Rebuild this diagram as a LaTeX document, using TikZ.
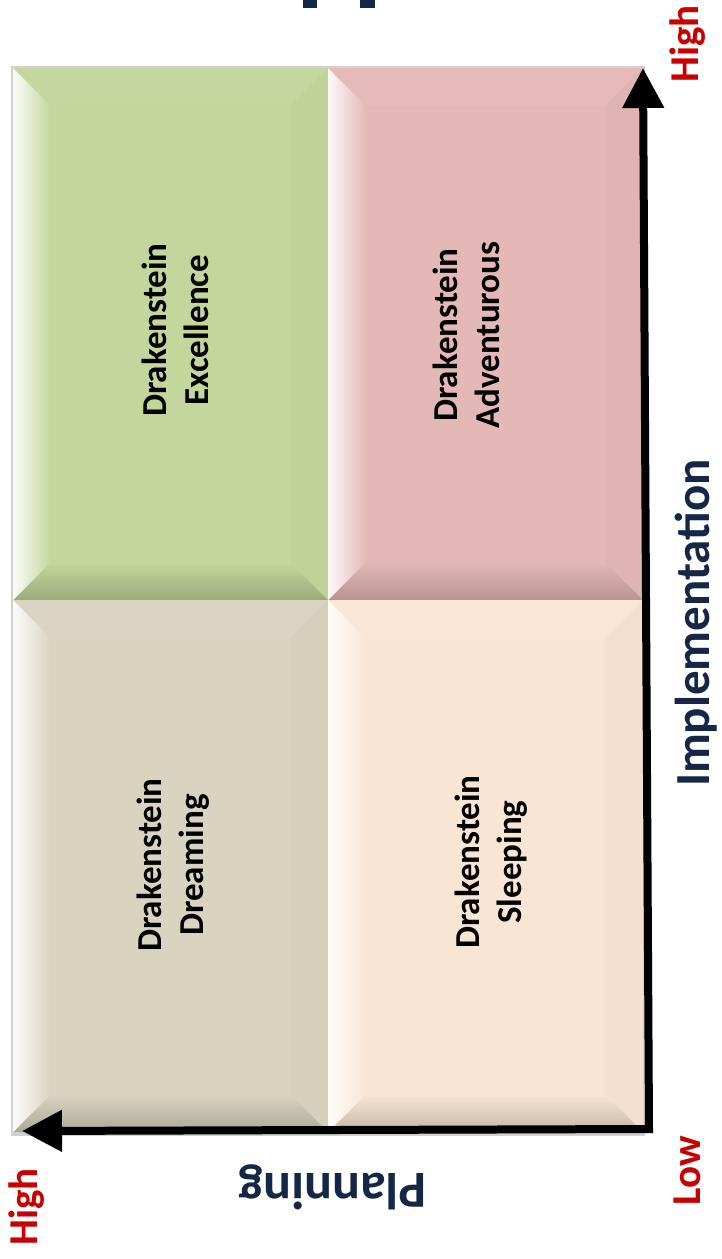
\documentclass[tikz,border=0pt]{standalone}
\usepackage{fontspec}
\setmainfont{Carlito}
\usetikzlibrary{arrows.meta}

\definecolor{cellgreen}{RGB}{195,214,155}
\definecolor{cellpink}{RGB}{228,184,183}
\definecolor{cellgray}{RGB}{217,212,192}
\definecolor{cellpeach}{RGB}{249,229,212}
\definecolor{axisnavy}{RGB}{20,40,70}
\definecolor{axisred}{RGB}{200,0,0}

% one bevelled cell of the matrix: #1 = shift, #2 = colour
\newcommand{\bevelcell}[2]{%
  \begin{scope}[shift={#1}]
    \fill[#2] (0,0) rectangle (315,532);
    \fill[#2!97!white] (0,0) -- (315,0) -- (277,38) -- (38,38) -- cycle;
    \fill[#2!98!black] (315,0) -- (315,532) -- (277,494) -- (277,38) -- cycle;
    \shade[top color=#2, bottom color=#2!80!black] (0,532) -- (38,494) -- (277,494) -- (315,532) -- cycle;
    \shade[left color=#2!8!white, right color=#2] (0,0) -- (38,38) -- (38,494) -- (0,532) -- cycle;
  \end{scope}}

\begin{document}
\begin{tikzpicture}[x=1pt, y=-1pt,
    celltext/.style={rotate=90, align=center, text=black,
      font=\bfseries\fontsize{35}{42}\selectfont},
    axistitle/.style={anchor=base, text=axisnavy, font=\bfseries\fontsize{50}{60}\selectfont},
    axislevel/.style={anchor=base, rotate=90, text=axisred, font=\bfseries\fontsize{41}{48}\selectfont},
    axis/.style={line width=8pt, line join=miter,
      {Triangle[length=40pt,width=40pt]}-{Triangle[length=40pt,width=40pt]}}]
  \useasboundingbox (0,0) rectangle (722,1259);

  % cut-off title at the top
  \fill[axisnavy] (303,0) rectangle (317,8);
  \fill[axisnavy] (360,0) rectangle (375,8);

  % draw the four cells
  \fill[black!18] (11,66) rectangle (645,1136);
  \bevelcell{(13,68)}{cellgreen}
  \bevelcell{(328,68)}{cellpink}
  \bevelcell{(13,600)}{cellgray}
  \bevelcell{(328,600)}{cellpeach}

  \node[celltext] (excellence) at (175,330) {Drakenstein\\Excellence};
  \node[celltext] (adventurous) at (466,335) {Drakenstein\\Adventurous};
  \node[celltext] (dreaming) at (173,865) {Drakenstein\\Dreaming};
  \node[celltext] (sleeping) at (491,862) {Drakenstein\\Sleeping};

  % draw the axes
  \coordinate (origin) at (649,1129);
  \coordinate (imphigh) at (643,68);
  \coordinate (planhigh) at (22,1131);
  \draw[axis] (imphigh) -- (origin) -- (planhigh);

  \node[axistitle, rotate=90, font=\bfseries\fontsize{49}{58}\selectfont] (implementation) at (709,623) {Implementation};
  \node[axistitle, rotate=180, font=\bfseries\fontsize{52}{62}\selectfont] (planning) at (333,1173) {Planning};

  \node[axislevel] (imphighlabel) at (698,44) {High};
  \node[axislevel] (lowlabel) at (700,1171) {Low};
  \node[axislevel] (planhighlabel) at (37,1207) {High};
\end{tikzpicture}
\end{document}
